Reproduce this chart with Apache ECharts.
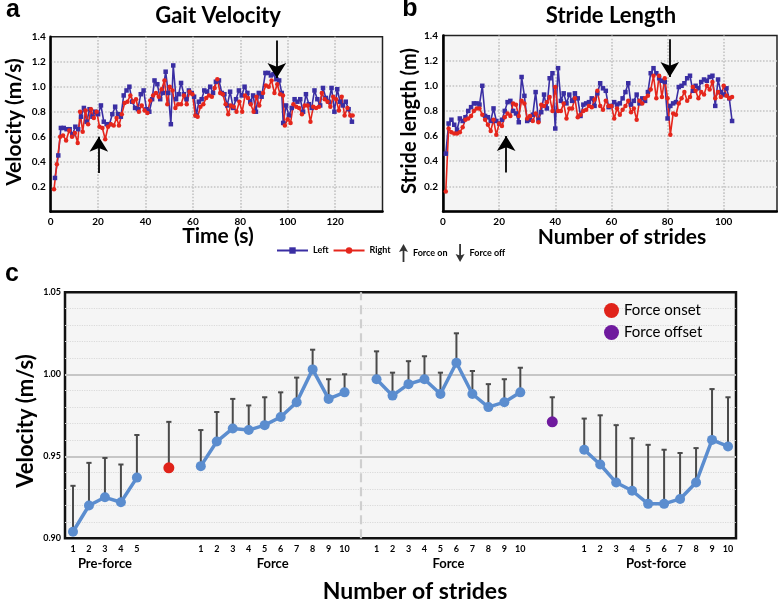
<!DOCTYPE html>
<html><head><meta charset="utf-8">
<script src="https://cdn.jsdelivr.net/npm/echarts@6/dist/echarts.min.js"></script>
<style>html,body{margin:0;padding:0;background:#fff}#c{width:778px;height:602px}</style>
</head><body><div id="c"></div>
<script>
// ---------- Panel a: gait velocity over time ----------
const timeLeft = [1.8,3.2,4.3,5.5,6.7,8.0,9.2,10.4,11.6,12.8,
 14.0,15.2,16.4,17.6,18.8,20.0,21.2,22.4,23.6,24.8,
 26.0,27.2,28.4,29.6,30.8,32.0,33.2,34.4,35.6,36.8,
 38.0,39.2,40.4,41.6,42.8,43.8,45.0,46.2,47.3,48.5,
 49.6,50.7,51.7,52.9,54.0,55.0,56.2,57.3,58.3,59.5,
 60.5,61.5,62.5,63.7,64.8,66.0,67.3,68.5,69.7,71.0,
 72.2,73.3,74.5,75.7,77.0,78.2,79.4,80.6,81.8,83.0,
 84.2,85.4,86.6,87.8,89.0,90.6,91.8,92.9,94.0,95.2,
 96.4,97.5,98.1,99.3,100.5,101.7,102.9,104.1,105.3,106.5,
 107.7,108.9,110.1,111.3,112.5,113.7,114.9,116.1,117.3,118.5,
 119.7,120.9,122.1,123.3,124.5,125.7,127.1];
const velLeft = [0.27,0.45,0.67,0.67,0.66,0.66,0.62,0.68,0.66,0.76,
 0.83,0.72,0.82,0.76,0.80,0.78,0.85,0.72,0.70,0.70,
 0.78,0.84,0.78,0.76,0.93,0.97,1.00,0.88,0.83,0.82,
 0.94,0.97,0.82,0.80,0.90,1.05,1.02,0.90,0.95,1.12,
 0.95,0.70,1.17,0.90,0.94,1.03,0.94,0.90,0.97,0.95,
 0.92,0.77,0.88,0.90,0.97,0.96,1.00,0.95,1.04,1.05,
 0.95,0.94,0.85,0.96,0.83,0.90,0.97,0.93,1.00,0.95,
 0.88,0.93,0.80,0.95,0.92,1.11,1.11,1.09,1.10,1.06,
 1.05,0.95,0.71,0.85,0.77,0.83,0.90,0.88,0.90,0.80,
 0.94,0.86,0.83,0.97,0.90,0.85,0.99,0.91,0.88,0.99,
 0.80,0.98,0.88,0.85,0.88,0.82,0.72];
const timeRight = [1.4,2.6,4.0,5.2,6.5,7.8,9.0,10.2,11.4,12.4,
 13.5,14.7,15.8,17.0,18.2,19.4,20.6,21.8,23.0,24.2,
 25.4,26.6,27.8,28.8,30.0,31.2,32.4,33.6,34.8,36.0,
 37.2,38.4,39.6,40.8,42.0,43.2,44.4,45.6,46.8,48.0,
 49.2,50.2,51.4,52.6,53.8,55.0,56.2,57.4,58.6,59.8,
 61.0,62.0,63.2,64.4,65.6,66.8,68.0,69.2,70.3,71.5,
 72.6,73.8,74.9,76.0,77.2,78.4,79.6,80.8,82.0,83.2,
 84.4,85.6,86.8,88.0,89.6,90.8,92.0,93.2,94.4,95.6,
 96.8,98.0,98.8,100.0,101.2,102.4,103.6,104.8,106.0,107.2,
 108.4,109.6,110.8,112.0,113.2,114.4,115.6,116.8,118.0,119.2,
 120.4,121.6,122.8,124.0,125.2,126.4,127.4];
const velRight = [0.18,0.38,0.60,0.61,0.57,0.65,0.60,0.63,0.55,0.80,
 0.64,0.81,0.70,0.82,0.75,0.80,0.68,0.67,0.58,0.68,
 0.70,0.69,0.75,0.69,0.78,0.87,0.88,0.93,0.88,0.90,
 0.80,0.85,0.81,0.79,0.89,0.93,0.95,0.92,0.98,1.05,
 0.86,1.00,0.97,0.83,0.86,0.86,0.93,0.86,0.96,0.94,
 0.77,0.76,0.84,0.86,0.91,0.93,0.92,0.99,1.06,0.95,
 0.94,0.86,0.78,0.85,0.84,0.80,0.88,0.80,0.93,0.91,
 0.86,0.80,0.92,0.85,0.95,1.01,1.00,1.05,0.95,1.02,
 0.94,0.93,0.69,0.74,0.71,0.86,0.84,0.83,0.78,0.85,
 0.85,0.72,0.84,0.83,0.84,0.95,0.90,0.88,0.84,0.92,
 0.90,0.81,0.92,0.77,0.83,0.77,0.77];

// ---------- Panel b: stride length per stride ----------
const strides = [1,2,3,4,5,6,7,8,9,10,11,12,13,14,15,16,17,18,19,20,
 21,22,23,24,25,26,27,28,29,30,31,32,33,34,35,36,37,38,39,40,
 41,42,43,44,45,46,47,48,49,50,51,52,53,54,55,56,57,58,59,60,
 61,62,63,64,65,66,67,68,69,70,71,72,73,74,75,76,77,78,79,80,
 81,82,83,84,85,86,87,88,89,90,91,92,93,94,95,96,97,98,99,100,
 101,102,103];
const lenLeft = [0.46,0.70,0.73,0.69,0.65,0.74,0.72,0.75,0.80,0.83,
 0.86,0.86,0.85,1.00,0.76,0.75,0.72,0.82,0.72,0.70,
 0.73,0.80,0.87,0.88,0.80,0.78,0.71,1.07,0.92,0.72,
 0.73,0.77,0.95,0.73,0.79,0.93,0.82,1.06,1.10,0.66,
 1.14,0.88,0.94,0.86,0.93,0.88,0.94,0.90,0.76,0.85,
 0.86,0.87,0.90,0.84,0.94,1.02,0.98,0.96,0.83,0.84,
 0.87,0.85,0.86,0.90,0.95,1.02,0.85,0.88,0.93,0.86,
 0.90,0.88,0.95,1.10,1.14,1.10,1.06,1.04,1.03,0.74,
 0.84,0.86,0.87,0.99,1.00,1.02,1.06,1.08,0.96,1.00,
 0.98,1.03,1.05,1.04,1.07,1.08,0.84,1.05,0.95,0.93,
 0.98,0.90,0.72];
const lenRight = [0.16,0.66,0.63,0.62,0.62,0.63,0.67,0.73,0.74,0.76,
 0.80,0.82,0.82,0.77,0.73,0.69,0.64,0.73,0.61,0.70,
 0.68,0.75,0.78,0.76,0.86,0.85,0.76,0.88,0.86,0.74,
 0.76,0.72,0.78,0.71,0.85,0.84,0.87,0.91,0.80,0.99,
 0.80,0.80,0.86,0.74,0.82,0.82,0.90,0.75,0.77,0.80,
 0.81,0.84,0.83,0.89,0.96,0.84,0.81,0.88,0.84,0.84,
 0.74,0.82,0.77,0.81,0.84,0.88,0.79,0.82,0.73,0.88,
 0.86,0.90,0.92,0.97,1.08,0.90,1.08,0.91,1.06,0.90,
 0.61,0.78,0.77,0.86,0.90,0.95,0.88,0.91,0.99,0.96,
 0.90,0.95,0.93,1.00,0.97,1.03,0.90,0.95,0.91,1.00,
 0.92,0.90,0.91];

// force arrows (data units)
const forceOnTime = 20.3, forceOffTime = 95.4;
const forceOnStride = 22.5, forceOffStride = 80.8;
const arrowUpRange = [0.31, 0.60];
const arrowDownRange = [1.37, 1.07];

// ---------- Panel c: mean velocity with upper error ----------
const preForce = [0.904,0.920,0.925,0.922,0.937];
const preForceUpper = [0.932,0.946,0.949,0.945,0.963];
const forceOnset = 0.943, forceOnsetUpper = 0.971;
const force1 = [0.944,0.959,0.967,0.966,0.969,0.974,0.983,1.003,0.985,0.989];
const force1Upper = [0.966,0.977,0.985,0.981,0.986,0.989,0.998,1.015,0.997,1.000];
const force2 = [0.997,0.987,0.994,0.997,0.988,1.007,0.988,0.980,0.983,0.989];
const force2Upper = [1.014,1.001,1.008,1.011,1.001,1.025,1.002,0.994,0.997,1.004];
const forceOffset = 0.971, forceOffsetUpper = 0.986;
const postForce = [0.954,0.945,0.934,0.929,0.921,0.921,0.924,0.934,0.960,0.956];
const postForceUpper = [0.973,0.975,0.969,0.961,0.957,0.954,0.952,0.955,0.991,0.986];
const yTicksAB = [0, 1.4, 0.2];
const yTicksC = [0.90, 1.05, 0.05];

// ---------- build ----------
const FF = 'Lato, "DejaVu Sans", sans-serif';
const BLUE = '#3a2ea3', RED = '#e5261c', LBLUE = '#5b8dcf';
const zip = (xs, ys) => xs.map((x, i) => [x, ys[i]]);

const cats = [], meanV = [], upperV = [];
function block(vals, ups) { const s = cats.length; vals.forEach((v, i) => { cats.push(String(i + 1)); meanV.push(v); upperV.push(ups[i]); }); return s; }
function gap() { cats.push(''); meanV.push(null); upperV.push(null); return cats.length - 1; }
const preStart = block(preForce, preForceUpper);
gap(); const onsetIdx = gap(); gap();
const f1Start = block(force1, force1Upper);
const dividerIdx = gap();
const f2Start = block(force2, force2Upper);
gap(); const offsetIdx = gap(); gap();
const postStart = block(postForce, postForceUpper);
const errData = [];
meanV.forEach((v, i) => { if (v != null) errData.push([i, v, upperV[i]]); });
errData.push([onsetIdx, forceOnset, forceOnsetUpper]);
errData.push([offsetIdx, forceOffset, forceOffsetUpper]);

const chart = echarts.init(document.getElementById('c'));

const tickLbl = { color: '#000', fontFamily: FF, fontWeight: 'bold', fontSize: 10 };
const dotted = { show: true, lineStyle: { color: '#c4c4c4', type: 'dotted', width: 1.6 }, showMinLine: false, showMaxLine: false };
function abY(grid) {
  return { type: 'value', gridIndex: grid, min: yTicksAB[0], max: yTicksAB[1], interval: yTicksAB[2],
    axisLine: { show: true, onZero: false, lineStyle: { color: '#000', width: 2.5 } }, axisTick: { show: false },
    axisLabel: Object.assign({ margin: 5, formatter: v => v === 0 ? '' : v.toFixed(1) }, tickLbl), splitLine: dotted };
}
function abX(grid, max) {
  return { type: 'value', gridIndex: grid, min: 0, max: max, interval: 20,
    axisLine: { show: true, onZero: false, lineStyle: { color: '#000', width: 2.5 } }, axisTick: { show: false },
    axisLabel: Object.assign({ margin: 5, showMaxLabel: false, formatter: v => (v % 20 === 0 && v <= 120) ? String(v) : '' }, tickLbl), splitLine: dotted };
}
function arrows(xOn, xOff) {
  return { silent: true, symbol: ['none', 'arrow'], symbolSize: [14, 15], label: { show: false },
    lineStyle: { color: '#000', width: 1.8, type: 'solid' }, emphasis: { disabled: true },
    data: [[{ coord: [xOn, arrowUpRange[0]] }, { coord: [xOn, arrowUpRange[1]] }],
           [{ coord: [xOff, arrowDownRange[0]] }, { coord: [xOff, arrowDownRange[1]] }]] };
}
const lineSeries = (name, xi, data, color, sym, extra) => Object.assign({
  name, type: 'line', xAxisIndex: xi, yAxisIndex: xi, data, color, symbol: sym, symbolSize: 4.5,
  lineStyle: { color, width: 1.6 }, itemStyle: { color }, z: 3 }, extra || {});

const option = {
  animation: false,
  backgroundColor: '#fff',
  textStyle: { fontFamily: FF },
  grid: [
    { left: 50.7, top: 36.7, width: 331.8, height: 175, show: true, backgroundColor: '#f4f4f4', borderColor: '#222', borderWidth: 1.5 },
    { left: 443, top: 35.5, width: 334, height: 176, show: true, backgroundColor: '#f4f4f4', borderColor: '#222', borderWidth: 1.5 },
    { left: 65, top: 292.3, width: 671, height: 246, show: true, backgroundColor: '#f5f5f5', borderColor: '#111', borderWidth: 2.5 }
  ],
  xAxis: [ abX(0, 140), abX(1, 119),
    { type: 'category', gridIndex: 2, data: cats, boundaryGap: true, axisLine: { show: false }, axisTick: { show: false },
      axisLabel: { interval: 0, margin: 6, color: '#000', fontFamily: FF, fontWeight: 'bold', fontSize: 9 }, splitLine: { show: false } } ],
  yAxis: [ abY(0), abY(1),
    { type: 'value', gridIndex: 2, min: yTicksC[0], max: yTicksC[1], interval: yTicksC[2],
      axisLine: { show: false }, axisTick: { show: false },
      axisLabel: { margin: 4, color: '#000', fontFamily: FF, fontWeight: 'bold', fontSize: 9, formatter: v => v.toFixed(2) },
      splitLine: { show: true, showMinLine: false, showMaxLine: false, lineStyle: { color: '#c6c6c6', width: 2 } },
      minorTick: { show: false, splitNumber: 5 },
      minorSplitLine: { show: true, lineStyle: { color: '#dadada', type: 'dotted', width: 1.2 } } } ],
  legend: [
    { data: ['Left', 'Right'], left: 276, top: 246, padding: 0, itemWidth: 31, itemHeight: 8, itemGap: 4,
      textStyle: { fontFamily: FF, fontWeight: 'bold', fontSize: 9, color: '#000' }, selectedMode: false },
    { data: [ { name: 'Force on', icon: 'path://M5,0 L10,9 L6,7.5 L6,20 L4,20 L4,7.5 L0,9 Z' },
              { name: 'Force off', icon: 'path://M4,0 L6,0 L6,12.5 L10,11 L5,20 L0,11 L4,12.5 Z' } ],
      left: 399, top: 244, padding: 0, itemWidth: 9, itemHeight: 18, itemGap: 8,
      textStyle: { fontFamily: FF, fontWeight: 'bold', fontSize: 9, color: '#000' }, selectedMode: false },
    { data: ['Force onset', 'Force offset'], orient: 'vertical', left: 604, top: 303, padding: 0,
      itemWidth: 15, itemHeight: 15, itemGap: 7, icon: 'circle',
      textStyle: { fontFamily: FF, fontSize: 15, color: '#000' }, selectedMode: false }
  ],
  series: [
    lineSeries('Left', 0, zip(timeLeft, velLeft), BLUE, 'rect', { markLine: arrows(forceOnTime, forceOffTime) }),
    lineSeries('Right', 0, zip(timeRight, velRight), RED, 'circle'),
    lineSeries('Left', 1, zip(strides, lenLeft), BLUE, 'rect', { markLine: arrows(forceOnStride, forceOffStride) }),
    lineSeries('Right', 1, zip(strides, lenRight), RED, 'circle'),
    { name: 'Force on', type: 'scatter', xAxisIndex: 0, yAxisIndex: 0, data: [], itemStyle: { color: '#000' } },
    { name: 'Force off', type: 'scatter', xAxisIndex: 0, yAxisIndex: 0, data: [], itemStyle: { color: '#000' } },
    { name: 'errors', type: 'custom', xAxisIndex: 2, yAxisIndex: 2, data: errData, z: 2, silent: true,
      encode: { x: 0, y: [1, 2] },
      renderItem: (params, api) => {
        const i = api.value(0);
        const lo = api.coord([i, api.value(1)]), hi = api.coord([i, api.value(2)]);
        const st = { stroke: '#4a4a4a', lineWidth: 2 };
        return { type: 'group', children: [
          { type: 'line', shape: { x1: lo[0], y1: lo[1], x2: hi[0], y2: hi[1] }, style: st },
          { type: 'line', shape: { x1: hi[0] - 2.6, y1: hi[1], x2: hi[0] + 2.6, y2: hi[1] }, style: st } ] };
      } },
    { name: 'velocity', type: 'line', xAxisIndex: 2, yAxisIndex: 2, data: meanV, connectNulls: false,
      symbol: 'circle', symbolSize: 10, color: LBLUE, lineStyle: { color: LBLUE, width: 3.5 }, itemStyle: { color: LBLUE }, z: 4,
      markLine: { silent: true, symbol: ['none', 'none'], label: { show: false }, emphasis: { disabled: true },
        lineStyle: { color: '#cfcfcf', type: [9, 5], width: 2.2 }, data: [{ xAxis: dividerIdx }] } },
    { name: 'Force onset', type: 'scatter', xAxisIndex: 2, yAxisIndex: 2, data: [[onsetIdx, forceOnset]],
      symbolSize: 11, itemStyle: { color: '#e0231a', opacity: 1 }, z: 5 },
    { name: 'Force offset', type: 'scatter', xAxisIndex: 2, yAxisIndex: 2, data: [[offsetIdx, forceOffset]],
      symbolSize: 11, itemStyle: { color: '#6f1a9e', opacity: 1 }, z: 5 }
  ]
};
chart.setOption(option);

// text annotations; group labels centred under their category blocks
function txt(x, y, text, font, rot) {
  return { type: 'text', x, y, rotation: rot || 0, silent: true,
    style: { text, font, fill: '#000', textAlign: 'center', textVerticalAlign: 'middle' } };
}
const groupDefs = [ ['Pre-force', preStart, 5], ['Force', f1Start, 10], ['Force', f2Start, 10], ['Post-force', postStart, 10] ];
const gFont = 'bold 13px ' + FF;
const elems = [
  txt(13, 10, 'a', 'bold 25px "Liberation Sans", Arial, sans-serif'),
  txt(410, 9, 'b', 'bold 25px "Liberation Sans", Arial, sans-serif'),
  txt(12, 274, 'c', 'bold 25px "Liberation Sans", Arial, sans-serif'),
  txt(218, 16, 'Gait Velocity', 'bold 22px ' + FF),
  txt(611, 16, 'Stride Length', 'bold 22px ' + FF),
  txt(218, 236, 'Time (s)', 'bold 21px ' + FF),
  txt(622, 237, 'Number of strides', 'bold 21px ' + FF),
  txt(14, 122, 'Velocity (m/s)', 'bold 21px ' + FF, Math.PI / 2),
  txt(410, 121, 'Stride length (m)', 'bold 20px ' + FF, Math.PI / 2),
  txt(26, 421, 'Velocity (m/s)', 'bold 22px ' + FF, Math.PI / 2),
  txt(415, 592, 'Number of strides', 'bold 23px ' + FF)
];
groupDefs.forEach(([label, start, n]) => {
  const a = chart.convertToPixel({ xAxisIndex: 2 }, start);
  const b = chart.convertToPixel({ xAxisIndex: 2 }, start + n - 1);
  elems.push(txt((a + b) / 2, 564, label, gFont));
});
chart.setOption({ graphic: { elements: elems } });
</script>
</body></html>
